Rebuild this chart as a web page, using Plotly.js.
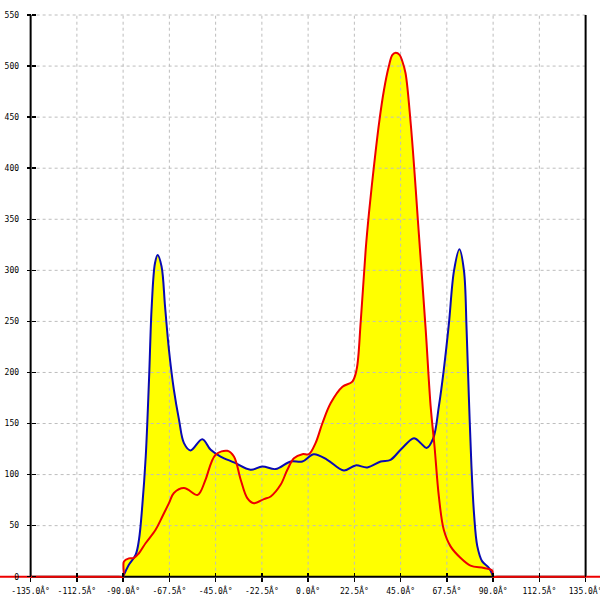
<!DOCTYPE html>
<html>
<head>
<meta charset="utf-8">
<script src="https://cdn.plot.ly/plotly-3.0.1.min.js"></script>
<style>html,body{margin:0;padding:0;background:#fff;}#chart{width:600px;height:600px;}</style>
</head>
<body>
<div id="chart"></div>
<script>
// ---- data ----
const blueX = [-90, -87.2, -83.9, -82.3, -80.7, -79, -77.4, -76.1, -74.5, -73.2, -71.3, -69.6, -67.7, -65.3, -62.8, -60.4, -57.2, -51.5, -47.4, -42.6, -36.1, -28, -22.3, -15.8, -8.5, -2.8, 2.8, 9.3, 17.4, 23.1, 28.8, 35.3, 40.1, 45, 51.5, 54.7, 57.6, 60.9, 63.6, 66, 68.5, 71, 73.6, 75.8, 77.1, 78.2, 79.4, 80.7, 82.3, 84.7, 88, 90];
const blueY = [0, 11.7, 21.5, 36, 68.8, 117.7, 193, 264.5, 307, 315, 303.7, 264.5, 222, 183, 153.6, 130.8, 123.6, 134.7, 124.3, 117.7, 111.9, 104.7, 108, 105.4, 112.8, 112.8, 120, 114.5, 104, 109, 107, 112.8, 114.5, 124.3, 135.7, 131, 126, 135.7, 166.7, 202.6, 248, 300, 320.7, 300, 241.7, 176, 111, 62, 30, 15, 8.5, 0];

const redX = [-180, -135, -100, -92, -90, -89.6, -87.2, -84.8, -82.3, -79, -74.2, -70.9, -67.7, -65.3, -60.4, -53.9, -52.3, -49.9, -45, -39.3, -36.1, -32.8, -29.6, -26.4, -21.5, -18.2, -13.4, -10.1, -6.9, -2.8, 0.4, 3.6, 6.9, 11, 16.7, 21.5, 23.6, 25.6, 28, 29.6, 32, 34.5, 36.9, 39.3, 41, 42.6, 44.5, 45.8, 47.4, 49.9, 51.8, 53.4, 57.2, 59.6, 61.5, 63.6, 66, 69.3, 74.2, 79, 85.5, 89.6, 90, 92, 100, 135, 180];
const redY = [0, 0, 0, 0, 0, 15, 18, 18.3, 23, 33, 46, 59, 72, 82, 86.8, 80, 83.5, 95, 119.4, 123.3, 117.7, 95, 77, 72, 76, 78.6, 90, 104.7, 116, 120, 120, 130.8, 150, 170, 186, 191, 203, 250, 320, 356, 401.5, 444, 476.6, 500, 511, 513, 511, 505, 493, 444, 395, 349, 242, 167, 127.5, 78.6, 46, 29.7, 18.3, 10.8, 8.5, 6, 0, 0, 0, 0, 0];

const xTickVals = [-135, -112.5, -90, -67.5, -45, -22.5, 0, 22.5, 45, 67.5, 90, 112.5, 135];
const xTickText = ['-135.0Â°', '-112.5Â°', '-90.0Â°', '-67.5Â°', '-45.0Â°', '-22.5Â°', '0.0Â°', '22.5Â°', '45.0Â°', '67.5Â°', '90.0Â°', '112.5Â°', '135.0Â°'];
const yTickVals = [0, 50, 100, 150, 200, 250, 300, 350, 400, 450, 500, 550];

// ---- derived geometry helpers ----
const xMin = xTickVals[0], xMax = xTickVals[xTickVals.length - 1];
const yMin = yTickVals[0], yMax = yTickVals[yTickVals.length - 1];
const xRange = [-149.9, 142.0];
const yRange = [-22.8, 564.7];
const xAxisPos = (0 - yRange[0]) / (yRange[1] - yRange[0]);
const yAxisPos = (xMin - xRange[0]) / (xRange[1] - xRange[0]);

const gvx = [], gvy = [];
xTickVals.slice(1, -1).forEach(v => { gvx.push(v, v, null); gvy.push(yMin, yMax, null); });
const ghx = [], ghy = [];
yTickVals.slice(1).forEach(v => { ghx.push(xMin, xMax, null); ghy.push(v, v, null); });

const YEL = '#ffff00';
const BLUE = '#0a0ab4';
const RED = '#ee0000';
const font = {family: 'DejaVu Sans Mono', size: 8, color: '#000'};
const SM = 1;

const traces = [
  {x: blueX, y: blueY, mode: 'lines', fill: 'tozeroy', fillcolor: YEL, line: {width: 0, shape: 'spline', smoothing: SM, color: YEL}, hoverinfo: 'skip'},
  {x: redX, y: redY, mode: 'lines', fill: 'tozeroy', fillcolor: YEL, line: {width: 0, shape: 'spline', smoothing: SM, color: YEL}, hoverinfo: 'skip'},
  {x: gvx, y: gvy, mode: 'lines', line: {color: '#bdbdbd', width: 1, dash: '3px,3px'}, hoverinfo: 'skip'},
  {x: ghx, y: ghy, mode: 'lines', line: {color: '#bdbdbd', width: 1, dash: '3px,3px'}, hoverinfo: 'skip'},
  {x: [xMin, xMin, null, xMax, xMax, null, xMin, xMax], y: [yMax, yMin, null, yMin, yMax, null, 0, 0], mode: 'lines', line: {color: '#000', width: 2}, hoverinfo: 'skip'},
  {x: blueX, y: blueY, mode: 'lines', line: {color: BLUE, width: 2, shape: 'spline', smoothing: SM}, hoverinfo: 'skip'},
  {x: redX, y: redY, mode: 'lines', line: {color: RED, width: 2, shape: 'spline', smoothing: SM}, hoverinfo: 'skip'},
  {x: [0], y: [0], xaxis: 'x2', yaxis: 'y2', mode: 'markers', marker: {opacity: 0}, hoverinfo: 'skip'}
];

const layout = {
  width: 600, height: 600,
  margin: {l: 0, r: 0, t: 0, b: 0},
  paper_bgcolor: '#fff', plot_bgcolor: '#fff',
  showlegend: false, hovermode: false,
  xaxis: {range: xRange, anchor: 'free', position: xAxisPos, showgrid: false, zeroline: false, showline: false,
          tickmode: 'array', tickvals: xTickVals, ticktext: xTickText, ticks: 'outside', ticklen: 4, tickwidth: 1.5, tickcolor: '#000',
          tickfont: font, ticklabelstandoff: 3, ticklabeloverflow: 'allow'},
  yaxis: {range: yRange, anchor: 'free', position: yAxisPos, showgrid: false, zeroline: false, showline: false,
          tickmode: 'array', tickvals: yTickVals, ticks: 'outside', ticklen: 4, tickwidth: 1.5, tickcolor: '#000',
          tickfont: font, ticklabelstandoff: 6, ticklabeloverflow: 'allow'},
  xaxis2: {range: xRange, overlaying: 'x', anchor: 'free', position: xAxisPos, showgrid: false, zeroline: false, showline: false,
           tickmode: 'array', tickvals: xTickVals, ticks: 'inside', ticklen: 4, tickwidth: 1.5, tickcolor: '#000', showticklabels: false},
  yaxis2: {range: yRange, overlaying: 'y', anchor: 'free', position: yAxisPos, showgrid: false, zeroline: false, showline: false,
           tickmode: 'array', tickvals: yTickVals, ticks: 'inside', ticklen: 4, tickwidth: 1.5, tickcolor: '#000', showticklabels: false}
};

Plotly.newPlot('chart', traces, layout, {staticPlot: true, displayModeBar: false});
</script>
</body>
</html>
